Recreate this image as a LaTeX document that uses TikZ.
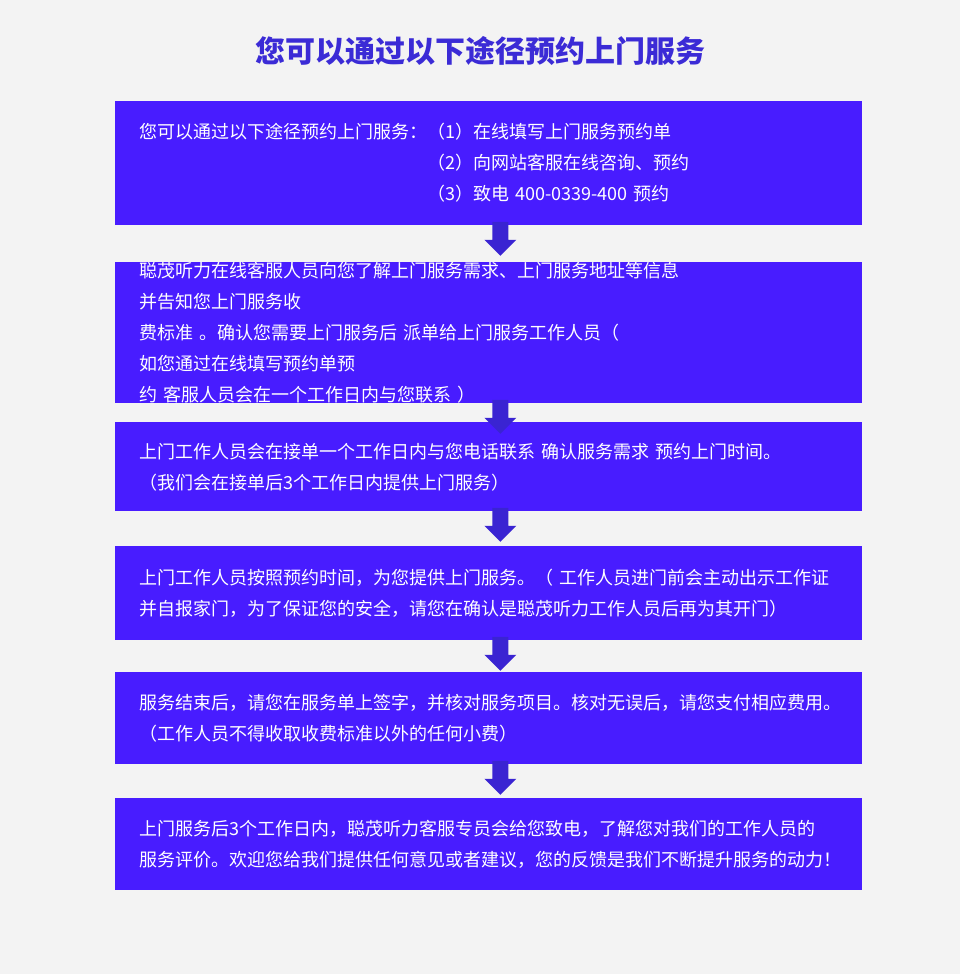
\documentclass[tikz,border=0pt]{standalone}
\usepackage{fontspec}
\setmainfont{Noto Sans CJK SC}
\usetikzlibrary{calc}
\definecolor{boxblue}{HTML}{481CFF}
\definecolor{arrowblue}{HTML}{3A24D2}
\definecolor{titleblue}{HTML}{3B2BD6}
\definecolor{pagegray}{HTML}{F3F3F3}
\newcommand{\downarr}[1]{%
  \fill[arrowblue] ($(#1.south)+(3.5,-4)$) -- ++(16,0) -- ++(0,18) -- ++(8,0)
    -- ++(-16,16) -- ++(-16,-16) -- ++(8,0) -- cycle;}

\begin{document}
\begin{tikzpicture}[x=0.5pt,y=-0.5pt,
	stepbox/.style={
		% The shape:
		rectangle, fill=boxblue, anchor=north west,
		text width=349.5pt, inner xsep=12pt, inner ysep=0pt,
		% The text:
		text=white, align=left, font=\fontsize{9}{15.5}\selectfont
		}]

	\fill[pagegray] (0,0) rectangle (960,974);
	\useasboundingbox (0,0) rectangle (960,974);

	\node (title) [text=titleblue, font=\fontsize{15}{17}\selectfont\bfseries] at (480,51) {您可以通过以下途径预约上门服务};

	\node (b1) [stepbox, minimum height=62pt] at (115,101) {%
		\begin{tabular}{@{}l@{}l@{}}
		您可以通过以下途径预约上门服务：&（1）在线填写上门服务预约单\\
		&（2）向网站客服在线咨询、预约\\
		&（3）致电 400-0339-400 预约
		\end{tabular}};
	\node (b2) [stepbox, minimum height=62pt] at (115,262) {聪茂听力在线客服人员向您了解上门服务需求、上门服务地址等信息 并告知您上门服务收\\费标准 。确认您需要上门服务后 派单给上门服务工作人员（ 如您通过在线填写预约单预\\约 客服人员会在一个工作日内与您联系 ）};
	\node (b3) [stepbox, minimum height=44.5pt] at (115,422) {上门工作人员会在接单一个工作日内与您电话联系 确认服务需求 预约上门时间。\\（我们会在接单后3个工作日内提供上门服务）};
	\node (b4) [stepbox, minimum height=47pt] at (115,546) {上门工作人员按照预约时间，为您提供上门服务。（ 工作人员进门前会主动出示工作证\\并自报家门，为了保证您的安全，请您在确认是聪茂听力工作人员后再为其开门）};
	\node (b5) [stepbox, minimum height=46pt] at (115,672) {服务结束后，请您在服务单上签字，并核对服务项目。核对无误后，请您支付相应费用。\\（工作人员不得收取收费标准以外的任何小费）};
	\node (b6) [stepbox, minimum height=46pt] at (115,798) {上门服务后3个工作日内，聪茂听力客服专员会给您致电，了解您对我们的工作人员的\\服务评价。欢迎您给我们提供任何意见或者建议，您的反馈是我们不断提升服务的动力！};

	% arrows between the steps
	\foreach \s in {b1,b2,b3,b4,b5}
		\downarr{\s};

\end{tikzpicture}
\end{document}
